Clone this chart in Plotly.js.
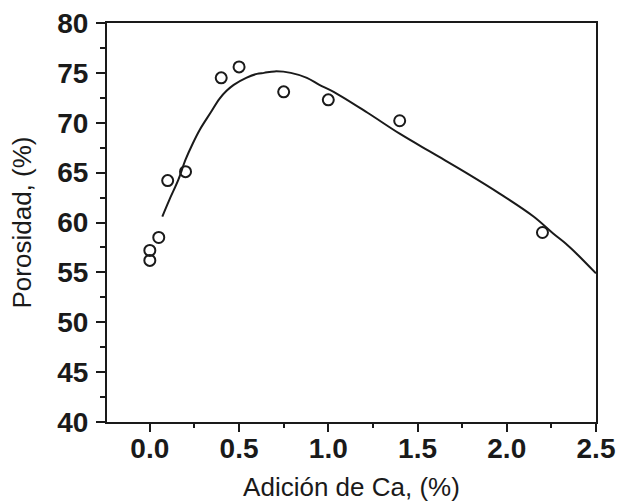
<!DOCTYPE html>
<html>
<head>
<meta charset="utf-8">
<script src="https://cdn.plot.ly/plotly-3.0.1.min.js"></script>
<style>html,body{margin:0;padding:0;background:#fff;}#chart{width:619px;height:504px;}</style>
</head>
<body>
<div id="chart"></div>
<script>
// Measured points (open circles)
var caAdd = [0.0, 0.0, 0.05, 0.1, 0.2, 0.4, 0.5, 0.75, 1.0, 1.4, 2.2];
var porosity = [56.2, 57.2, 58.5, 64.2, 65.1, 74.5, 75.6, 73.1, 72.3, 70.2, 59.0];

// Fitted curve
var fitX = [0.07, 0.11, 0.16, 0.20, 0.24, 0.28, 0.34, 0.39, 0.43, 0.47, 0.54, 0.60, 0.64, 0.70, 0.79, 0.88, 0.95, 1.03, 1.22, 1.40, 1.59, 1.78, 1.96, 2.15, 2.26, 2.33, 2.39, 2.50];
var fitY = [60.6, 62.3, 64.3, 66.3, 67.9, 69.3, 71.0, 72.4, 73.2, 73.8, 74.5, 74.9, 75.0, 75.15, 75.0, 74.5, 73.8, 73.1, 71.0, 68.9, 66.9, 64.9, 62.9, 60.6, 58.9, 57.9, 56.9, 54.9];

var xTickVals = [0.0, 0.5, 1.0, 1.5, 2.0, 2.5];
var xTickText = ['0.0', '0.5', '1.0', '1.5', '2.0', '2.5'];
var yTickVals = [40, 45, 50, 55, 60, 65, 70, 75, 80];

var ink = '#1a1a1a';
var font = 'Liberation Sans, Arial, sans-serif';

var traces = [
  {
    x: fitX, y: fitY, type: 'scatter', mode: 'lines',
    line: {color: ink, width: 2, shape: 'spline', smoothing: 1},
    hoverinfo: 'skip'
  },
  {
    x: caAdd, y: porosity, type: 'scatter', mode: 'markers',
    marker: {symbol: 'circle-open', size: 11, color: ink, line: {width: 2, color: ink}}
  }
];

var layout = {
  width: 619, height: 504,
  margin: {l: 107, r: 23, t: 23, b: 82},
  paper_bgcolor: '#fff', plot_bgcolor: '#fff',
  showlegend: false,
  font: {family: font, color: ink},
  xaxis: {
    range: [-0.24, 2.5],
    tickvals: xTickVals, ticktext: xTickText,
    ticks: 'outside', ticklen: 8, tickwidth: 2, tickcolor: ink,
    minor: {dtick: 0.25, tick0: 0, ticks: 'outside', ticklen: 4, tickwidth: 2, tickcolor: ink},
    showline: true, linewidth: 2, linecolor: ink, mirror: true,
    showgrid: false, zeroline: false,
    tickfont: {family: font, size: 28, color: ink, weight: 'bold'},
    ticklabelstandoff: -8,
    title: {text: 'Adición de Ca, (%)', font: {family: font, size: 26, color: ink}, standoff: 15}
  },
  yaxis: {
    range: [40, 80],
    tickvals: yTickVals,
    ticks: 'outside', ticklen: 9, tickwidth: 2, tickcolor: ink,
    minor: {dtick: 2.5, tick0: 40, ticks: 'outside', ticklen: 5, tickwidth: 2, tickcolor: ink},
    showline: true, linewidth: 2, linecolor: ink, mirror: true,
    showgrid: false, zeroline: false,
    tickfont: {family: font, size: 28, color: ink, weight: 'bold'},
    ticklabelstandoff: 2,
    title: {text: 'Porosidad, (%)', font: {family: font, size: 26, color: ink}, standoff: 18}
  }
};

Plotly.newPlot('chart', traces, layout, {displayModeBar: false, staticPlot: true});
</script>
</body>
</html>
